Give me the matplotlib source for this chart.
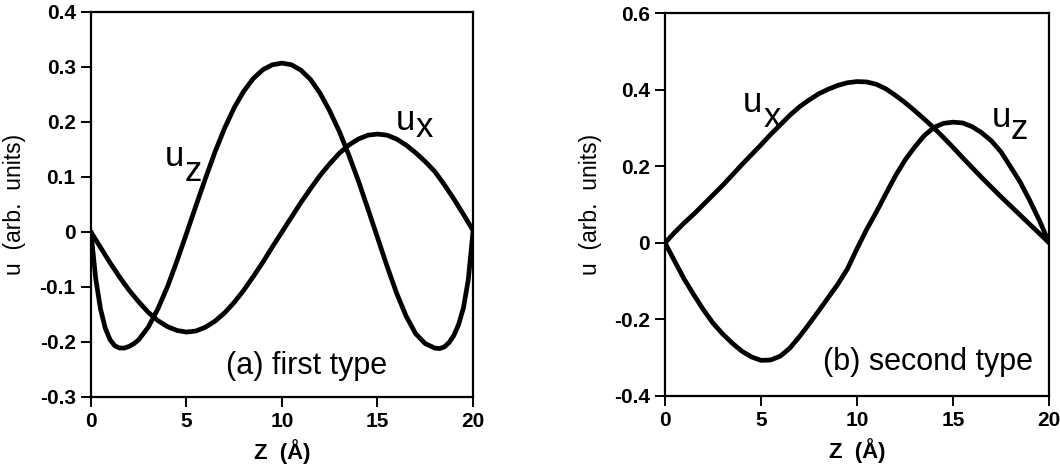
import matplotlib
matplotlib.use('Agg')
import matplotlib.pyplot as plt

plt.rcParams['font.family'] = ['Liberation Sans', 'DejaVu Sans']

# ---- panel (a) first type ----
z_a_uz = [0, 0.25, 0.5, 0.75, 1, 1.25, 1.5, 1.75, 2, 2.25, 2.5, 3, 3.5, 4, 4.5, 5, 5.5, 6, 6.5,
          7, 7.5, 8, 8.5, 9, 9.5, 10, 10.5, 11, 11.5, 12, 12.5, 13, 13.5, 14, 14.5, 15, 15.5,
          16, 16.5, 17, 17.5, 18, 18.25, 18.5, 18.75, 19, 19.25, 19.5, 19.75, 20]
uz_a = [0, -0.085, -0.14, -0.175, -0.196, -0.207, -0.211, -0.211, -0.208, -0.203, -0.196,
        -0.173, -0.140, -0.100, -0.053, -0.003, 0.048, 0.098, 0.146, 0.189, 0.226, 0.256,
        0.279, 0.295, 0.304, 0.307, 0.304, 0.294, 0.277, 0.252, 0.220, 0.183, 0.140, 0.093,
        0.042, -0.010, -0.062, -0.111, -0.153, -0.185, -0.203, -0.211, -0.212, -0.209,
        -0.201, -0.188, -0.168, -0.138, -0.088, 0]

z_a_ux = [0, 0.5, 1, 1.5, 2, 2.5, 3, 3.5, 4, 4.5, 5, 5.5, 6, 6.5, 7, 7.5, 8, 8.5, 9, 9.5, 10,
          10.5, 11, 11.5, 12, 12.5, 13, 13.5, 14, 14.5, 15, 15.5, 16, 16.5, 17, 17.5, 18, 18.5,
          19, 19.5, 20]
ux_a = [0, -0.028, -0.056, -0.082, -0.106, -0.127, -0.146, -0.161, -0.172, -0.179, -0.182,
        -0.180, -0.173, -0.162, -0.147, -0.128, -0.106, -0.081, -0.055, -0.027, 0.0, 0.027,
        0.054, 0.079, 0.103, 0.124, 0.143, 0.158, 0.169, 0.176, 0.178, 0.176, 0.169, 0.158,
        0.144, 0.128, 0.110, 0.086, 0.060, 0.032, 0.003]

# ---- panel (b) second type ----
z_b = [0, 0.5, 1, 1.5, 2, 2.5, 3, 3.5, 4, 4.5, 5, 5.5, 6, 6.5, 7, 7.5, 8, 8.5, 9, 9.5, 10,
       10.5, 11, 11.5, 12, 12.5, 13, 13.5, 14, 14.5, 15, 15.5, 16, 16.5, 17, 17.5, 18, 18.5,
       19, 19.5, 20]
ux_b = [0, 0.027, 0.052, 0.075, 0.100, 0.125, 0.150, 0.177, 0.204, 0.230, 0.256, 0.283,
        0.308, 0.333, 0.355, 0.373, 0.389, 0.401, 0.411, 0.418, 0.421, 0.420, 0.414, 0.402,
        0.385, 0.366, 0.345, 0.323, 0.300, 0.275, 0.249, 0.222, 0.196, 0.170, 0.145, 0.120,
        0.096, 0.072, 0.048, 0.024, 0.0]
uz_b = [0, -0.048, -0.095, -0.136, -0.175, -0.210, -0.238, -0.262, -0.283, -0.298, -0.307,
        -0.306, -0.296, -0.275, -0.245, -0.212, -0.178, -0.143, -0.108, -0.068, -0.015, 0.035,
        0.080, 0.128, 0.175, 0.216, 0.250, 0.280, 0.301, 0.312, 0.315, 0.313, 0.303, 0.287,
        0.266, 0.237, 0.198, 0.158, 0.110, 0.058, 0.0]

x_ticks = [0, 5, 10, 15, 20]
y_ticks_a = [0.4, 0.3, 0.2, 0.1, 0, -0.1, -0.2, -0.3]
y_labels_a = ['0.4', '0.3', '0.2', '0.1', '0', '-0.1', '-0.2', '-0.3']
y_ticks_b = [0.6, 0.4, 0.2, 0, -0.2, -0.4]
y_labels_b = ['0.6', '0.4', '0.2', '0', '-0.2', '-0.4']

fig = plt.figure(figsize=(10.6, 4.73), dpi=100)
ax1 = fig.add_axes([0.0858, 0.1607, 0.3604, 0.814])
ax2 = fig.add_axes([0.6274, 0.1628, 0.3623, 0.8097])


def style(ax, yticks, ylabels, ylim):
    ax.set_xlim(0, 20)
    ax.set_ylim(*ylim)
    ax.set_xticks(x_ticks)
    ax.set_xticklabels([str(t) for t in x_ticks])
    ax.set_yticks(yticks)
    ax.set_yticklabels(ylabels)
    for s in ax.spines.values():
        s.set_linewidth(1.6)
    ax.tick_params(direction='out', length=7, width=1.4, labelsize=15, pad=4)
    for lab in ax.get_xticklabels() + ax.get_yticklabels():
        lab.set_fontweight('bold')
    ax.set_xlabel('Z  (Å)', fontsize=16, fontweight='bold')
    ax.set_ylabel('u  (arb.  units)', fontsize=16.5)
    ax.xaxis.set_label_coords(0.5, -0.11)


lw = 3.4
ax1.plot(z_a_uz, uz_a, color='black', lw=lw, solid_capstyle='round', solid_joinstyle='round')
ax1.plot(z_a_ux, ux_a, color='black', lw=lw, solid_capstyle='round', solid_joinstyle='round')
style(ax1, y_ticks_a, y_labels_a, (-0.3, 0.4))
ax1.yaxis.set_label_coords(-0.17, 0.5)
ax1.text(3.85, 0.12, 'u', fontsize=25)
ax1.text(4.9, 0.092, 'z', fontsize=25)
ax1.text(15.94, 0.186, 'u', fontsize=25)
ax1.text(17.0, 0.172, 'x', fontsize=25)
ax1.text(11.3, -0.244, '(a) first type', fontsize=22, ha='center', va='center')

ax2.plot(z_b, ux_b, color='black', lw=lw, solid_capstyle='round', solid_joinstyle='round')
ax2.plot(z_b, uz_b, color='black', lw=lw, solid_capstyle='round', solid_joinstyle='round')
style(ax2, y_ticks_b, y_labels_b, (-0.4, 0.6))
ax2.yaxis.set_label_coords(-0.165, 0.5)
ax2.text(4.05, 0.341, 'u', fontsize=25)
ax2.text(5.15, 0.302, 'x', fontsize=25)
ax2.text(17.0, 0.302, 'u', fontsize=25)
ax2.text(18.0, 0.272, 'z', fontsize=25)
ax2.text(13.7, -0.312, '(b) second type', fontsize=22, ha='center', va='center')

fig.savefig('out.png', dpi=100)
